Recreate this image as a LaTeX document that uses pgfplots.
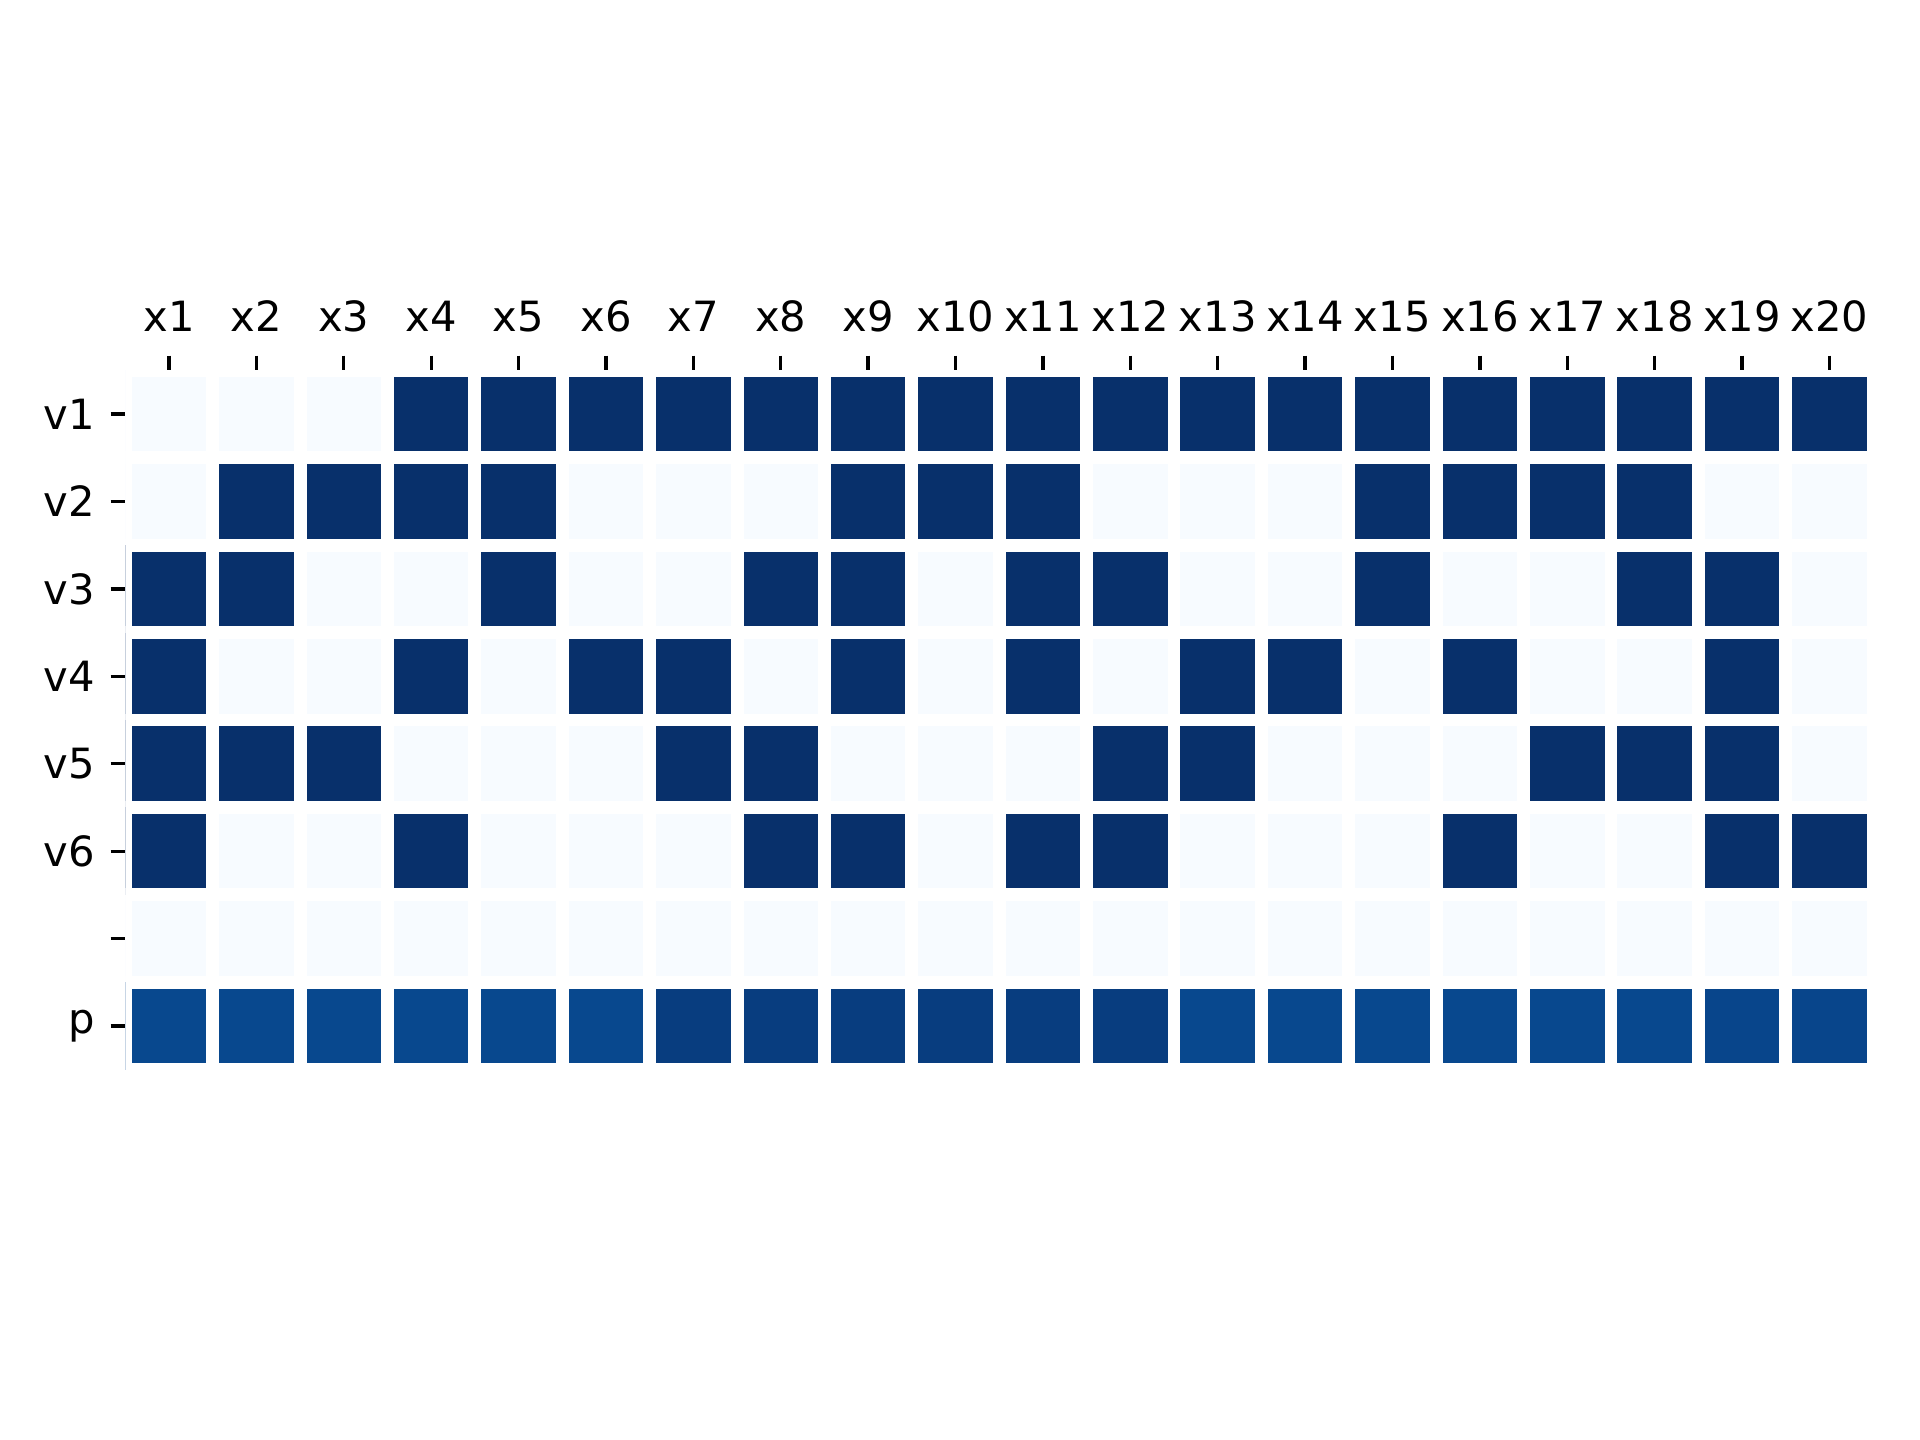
\documentclass[border=0pt]{standalone}
\usepackage{fontspec}
\setmainfont{DejaVu Sans}
\usepackage{pgfplots}
\pgfplotsset{compat=1.18}
\usepackage{pgfplotstable}

\pgfplotstableread{
x y c
0 0 0
1 0 0
2 0 0
3 0 1
4 0 1
5 0 1
6 0 1
7 0 1
8 0 1
9 0 1
10 0 1
11 0 1
12 0 1
13 0 1
14 0 1
15 0 1
16 0 1
17 0 1
18 0 1
19 0 1
0 1 0
1 1 1
2 1 1
3 1 1
4 1 1
5 1 0
6 1 0
7 1 0
8 1 1
9 1 1
10 1 1
11 1 0
12 1 0
13 1 0
14 1 1
15 1 1
16 1 1
17 1 1
18 1 0
19 1 0
0 2 1
1 2 1
2 2 0
3 2 0
4 2 1
5 2 0
6 2 0
7 2 1
8 2 1
9 2 0
10 2 1
11 2 1
12 2 0
13 2 0
14 2 1
15 2 0
16 2 0
17 2 1
18 2 1
19 2 0
0 3 1
1 3 0
2 3 0
3 3 1
4 3 0
5 3 1
6 3 1
7 3 0
8 3 1
9 3 0
10 3 1
11 3 0
12 3 1
13 3 1
14 3 0
15 3 1
16 3 0
17 3 0
18 3 1
19 3 0
0 4 1
1 4 1
2 4 1
3 4 0
4 4 0
5 4 0
6 4 1
7 4 1
8 4 0
9 4 0
10 4 0
11 4 1
12 4 1
13 4 0
14 4 0
15 4 0
16 4 1
17 4 1
18 4 1
19 4 0
0 5 1
1 5 0
2 5 0
3 5 1
4 5 0
5 5 0
6 5 0
7 5 1
8 5 1
9 5 0
10 5 1
11 5 1
12 5 0
13 5 0
14 5 0
15 5 1
16 5 0
17 5 0
18 5 1
19 5 1
0 6 0
1 6 0
2 6 0
3 6 0
4 6 0
5 6 0
6 6 0
7 6 0
8 6 0
9 6 0
10 6 0
11 6 0
12 6 0
13 6 0
14 6 0
15 6 0
16 6 0
17 6 0
18 6 0
19 6 0
0 7 0.91
1 7 0.91
2 7 0.91
3 7 0.91
4 7 0.91
5 7 0.91
6 7 0.95
7 7 0.95
8 7 0.95
9 7 0.95
10 7 0.95
11 7 0.95
12 7 0.91
13 7 0.91
14 7 0.91
15 7 0.91
16 7 0.91
17 7 0.91
18 7 0.92
19 7 0.92
}\cells

\begin{document}
\fontsize{10pt}{12pt}\selectfont
\begin{tikzpicture}
\path[use as bounding box] (0,0) rectangle (460.8pt,345.6pt);
\begin{axis}[
  at={(30.07pt,88.85pt)}, anchor=south west,
  scale only axis, width=419.5pt, height=167.9pt,
  xmin=-0.5, xmax=19.5, ymin=-0.5, ymax=7.5,
  y dir=reverse,
  axis on top,
  axis line style={draw=none},
  xtick pos=upper, xticklabel pos=upper,
  ytick pos=lower, yticklabel pos=lower,
  tick align=outside,
  xtick align=outside, ytick align=outside,
  major tick length=3.5pt,
  tick style={black, line width=0.8pt},
  xtick={0,...,19},
  xticklabels={x1,x2,x3,x4,x5,x6,x7,x8,x9,x10,x11,x12,x13,x14,x15,x16,x17,x18,x19,x20},
  ytick={0,...,7},
  yticklabels={v1,v2,v3,v4,v5,v6,{},p},
  tick label style={font=\fontsize{10pt}{12pt}\selectfont, black},
  xticklabel style={yshift=2.2pt},
  yticklabel style={xshift=-0.3pt},
  colormap={mblues}{rgb255=(247,251,255) rgb255=(222,235,247) rgb255=(198,219,239) rgb255=(158,202,225) rgb255=(107,174,214) rgb255=(66,146,198) rgb255=(33,113,181) rgb255=(8,81,156) rgb255=(8,48,107)},
  point meta min=0, point meta max=1,
  clip=true, clip marker paths=true,
]
\addplot[scatter, only marks, mark=square*, mark size=10.49pt,
  point meta=explicit,
  scatter/use mapped color={draw=white, fill=mapped color},
  mark options={line width=3.1pt}]
  table[x=x, y=y, meta=c] {\cells};
\end{axis}
\end{tikzpicture}
\end{document}
